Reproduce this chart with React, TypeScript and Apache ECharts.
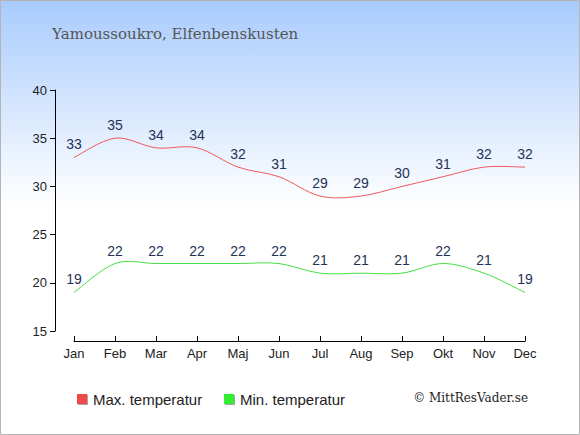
import React, { useEffect, useRef } from "react";
import * as echarts from "echarts";

const months = ["Jan", "Feb", "Mar", "Apr", "Maj", "Jun", "Jul", "Aug", "Sep", "Okt", "Nov", "Dec"];
const maxTemp = [33, 35, 34, 34, 32, 31, 29, 29, 30, 31, 32, 32];
const minTemp = [19, 22, 22, 22, 22, 22, 21, 21, 21, 22, 21, 19];
const yTicks = [15, 20, 25, 30, 35, 40];
const titleText = "Yamoussoukro, Elfenbenskusten";
const maxName = "Max. temperatur";
const minName = "Min. temperatur";
const credit = "© MittResVader.se";

function splineSeries(values: number[], color: string) {
  return {
    type: "custom",
    data: [0],
    silent: true,
    clip: false,
    renderItem: (_params: any, api: any) => {
      const pts = values.map((v, i) => api.coord([i, v]));
      const n = pts.length;
      const P = (i: number) => pts[Math.max(0, Math.min(n - 1, i))];
      let d = `M${pts[0][0]},${pts[0][1]}`;
      for (let i = 0; i < n - 1; i++) {
        const p0 = P(i - 1), p1 = P(i), p2 = P(i + 1), p3 = P(i + 2);
        const c1x = p1[0] + (p2[0] - p0[0]) / 6;
        const c1y = p1[1] + (p2[1] - p0[1]) / 6;
        const c2x = p2[0] - (p3[0] - p1[0]) / 6;
        const c2y = p2[1] - (p3[1] - p1[1]) / 6;
        d += ` C${c1x},${c1y} ${c2x},${c2y} ${p2[0]},${p2[1]}`;
      }
      return {
        type: "path",
        shape: { pathData: d },
        style: { fill: "none", stroke: color, lineWidth: 1 },
      };
    },
  };
}

export default function App() {
  const ref = useRef<HTMLDivElement>(null);
  useEffect(() => {
    document.body.style.margin = "0";
    const chart = echarts.init(ref.current!, null, { renderer: "svg" });
    const labelStyle = {
      show: true,
      position: "top" as const,
      distance: 5,
      color: "#1f3358",
      fontSize: 14,
      fontFamily: "Liberation Sans, Arial, sans-serif",
    };
    const labelSeries = (name: string, data: number[]) => ({
      name,
      type: "line",
      data,
      symbol: "circle",
      symbolSize: 2,
      showSymbol: true,
      itemStyle: { color: "rgba(0,0,0,0)", borderWidth: 0 },
      lineStyle: { color: "rgba(0,0,0,0)", width: 0 },
      label: labelStyle,
      silent: true,
    });
    chart.setOption({
      animation: false,
      backgroundColor: {
        type: "linear",
        x: 0, y: 0, x2: 0, y2: 1,
        colorStops: [
          { offset: 0, color: "#a8cbfd" },
          { offset: 0.47, color: "#ffffff" },
          { offset: 1, color: "#ffffff" },
        ],
      },
      title: {
        text: titleText,
        left: 47,
        top: 21,
        textStyle: {
          fontFamily: "DejaVu Serif, Georgia, serif",
          fontWeight: "normal",
          fontSize: 15,
          color: "#555555",
        },
      },
      grid: { left: 74, right: 55, top: 90, bottom: 104 },
      xAxis: {
        type: "category",
        data: months,
        boundaryGap: false,
        offset: 10,
        axisLine: { lineStyle: { color: "#000", width: 1 } },
        axisTick: { show: true, length: 5, inside: true, alignWithLabel: true, lineStyle: { color: "#000" } },
        axisLabel: { color: "#222", fontSize: 13, fontFamily: "Liberation Sans, Arial, sans-serif", margin: 6 },
        splitLine: { show: false },
      },
      yAxis: {
        type: "value",
        min: yTicks[0],
        max: yTicks[yTicks.length - 1],
        interval: yTicks[1] - yTicks[0],
        offset: 19,
        axisLine: { show: true, lineStyle: { color: "#000", width: 1 } },
        axisTick: { show: true, length: 5, lineStyle: { color: "#000" } },
        axisLabel: { color: "#222", fontSize: 13, fontFamily: "Liberation Sans, Arial, sans-serif", margin: 8 },
        splitLine: { show: false },
      },
      legend: { show: false },
      series: [
        splineSeries(maxTemp, "#f05a5a"),
        splineSeries(minTemp, "#44e044"),
        labelSeries(maxName, maxTemp),
        labelSeries(minName, minTemp),
      ],
      graphic: [
        {
          type: "rect",
          shape: { x: 0.5, y: 0.5, width: 579, height: 434 },
          style: { fill: "none", stroke: "#b4b4b4", lineWidth: 1 },
          silent: true,
        },
        {
          type: "rect",
          shape: { x: 77, y: 394, width: 10, height: 10 },
          style: { fill: "#f04848", shadowColor: "rgba(0,0,0,0.35)", shadowOffsetX: 1, shadowOffsetY: 1, shadowBlur: 1 },
        },
        {
          type: "text",
          x: 93, y: 399,
          style: { text: maxName, fill: "#222", font: "15px Liberation Sans, Arial, sans-serif", verticalAlign: "middle" },
        },
        {
          type: "rect",
          shape: { x: 224, y: 394, width: 10, height: 10 },
          style: { fill: "#33ee33", shadowColor: "rgba(0,0,0,0.35)", shadowOffsetX: 1, shadowOffsetY: 1, shadowBlur: 1 },
        },
        {
          type: "text",
          x: 240, y: 399,
          style: { text: minName, fill: "#222", font: "15px Liberation Sans, Arial, sans-serif", verticalAlign: "middle" },
        },
        {
          type: "text",
          x: 528, y: 398,
          style: { text: credit, fill: "#222", font: "12px DejaVu Serif, Georgia, serif", align: "right", verticalAlign: "middle" },
        },
      ],
    });
    return () => chart.dispose();
  }, []);
  return <div ref={ref} style={{ width: 580, height: 435 }} />;
}
